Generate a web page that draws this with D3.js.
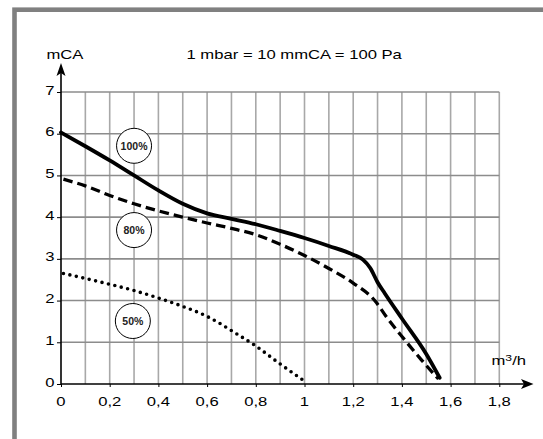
<!DOCTYPE html>
<html><head><meta charset="utf-8">
<script src="https://cdn.jsdelivr.net/npm/d3@7"></script>
<style>body{margin:0;background:#fff}svg{display:block}</style>
</head><body>
<script>
// ---- data ----
const flow100 = [0, 0.1, 0.2, 0.3, 0.4, 0.5, 0.6, 0.7, 0.8, 0.9, 1.0, 1.1, 1.2, 1.24, 1.27, 1.3, 1.33, 1.4, 1.5, 1.555];
const head100 = [6.03, 5.70, 5.36, 5.00, 4.64, 4.32, 4.09, 3.96, 3.83, 3.67, 3.50, 3.31, 3.10, 2.98, 2.78, 2.44, 2.17, 1.57, 0.72, 0.15];
const flow80 = [0.01, 0.1, 0.2, 0.3, 0.4, 0.5, 0.6, 0.7, 0.8, 0.9, 1.0, 1.1, 1.2, 1.29, 1.34, 1.41, 1.48, 1.55];
const head80 = [4.91, 4.75, 4.52, 4.32, 4.15, 4.00, 3.86, 3.73, 3.58, 3.35, 3.08, 2.77, 2.42, 1.99, 1.58, 1.07, 0.58, 0.12];
const flow50 = [0.01, 0.1, 0.2, 0.3, 0.4, 0.5, 0.6, 0.65, 0.7, 0.8, 0.9, 1.0];
const head50 = [2.65, 2.53, 2.39, 2.24, 2.06, 1.86, 1.62, 1.46, 1.28, 0.91, 0.48, 0.07];
const xTicks = [0, 0.2, 0.4, 0.6, 0.8, 1, 1.2, 1.4, 1.6, 1.8];
const xTickLabels = ["0", "0,2", "0,4", "0,6", "0,8", "1", "1,2", "1,4", "1,6", "1,8"];
const yTicks = [0, 1, 2, 3, 4, 5, 6, 7];
const labels = ["100%", "80%", "50%"];
const labelX = [0.30, 0.30, 0.295];
const labelY = [5.71, 3.69, 1.51];
const title = "1 mbar = 10 mmCA = 100 Pa";
const yTitle = "mCA";

// ---- layout ----
const W = 543, H = 439;
const svg = d3.select("body").append("svg").attr("width", W).attr("height", H);
const x = d3.scaleLinear().domain([0, 1.8]).range([61, 499.3]);
const y = d3.scaleLinear().domain([0, 7]).range([384, 92]);
const SX = 1.28;
const font = "'Liberation Sans', Arial, sans-serif";

svg.append("rect").attr("width", W).attr("height", H).attr("fill", "#fff");
// frame
svg.append("rect").attr("x", 14.5).attr("y", 9.7).attr("width", 600).attr("height", 500)
  .attr("fill", "none").attr("stroke", "#808080").attr("stroke-width", 4.6);

// grid
const g = svg.append("g");
g.selectAll(".vg").data(d3.range(1, 19).map(i => i / 10)).join("line")
  .attr("x1", d => x(d)).attr("x2", d => x(d)).attr("y1", y(0)).attr("y2", y(7))
  .attr("stroke", "#a8a8a8").attr("stroke-width", 1.6);
g.selectAll(".hg").data(yTicks.slice(1)).join("line")
  .attr("x1", x(0)).attr("x2", x(1.8)).attr("y1", d => y(d)).attr("y2", d => y(d))
  .attr("stroke", "#8c8c8c").attr("stroke-width", 1.6);

// axes via d3 axis (ticks), then arrow lines
const xAxis = svg.append("g").attr("transform", `translate(0,${y(0)})`)
  .call(d3.axisBottom(x).tickValues(xTicks).tickSize(3).tickFormat(""));
const yAxis = svg.append("g").attr("transform", `translate(${x(0)},0)`)
  .call(d3.axisLeft(y).tickValues(yTicks).tickSize(4).tickFormat(""));
[xAxis, yAxis].forEach(a => { a.select(".domain").remove(); a.selectAll("line").attr("stroke", "#000").attr("stroke-width", 1); });

const ax = svg.append("g").attr("stroke", "#000").attr("stroke-width", 1.6);
ax.append("line").attr("x1", x(0)).attr("x2", 524).attr("y1", y(0)).attr("y2", y(0));
ax.append("line").attr("x1", x(0)).attr("x2", x(0)).attr("y1", y(0)).attr("y2", 72);
svg.append("path").attr("d", `M533.5,${y(0)} L521,${y(0) - 5} L524,${y(0)} L521,${y(0) + 5} Z`).attr("fill", "#000");
svg.append("path").attr("d", `M${x(0)},63 L${x(0) - 4.5},76 L${x(0)},73 L${x(0) + 4.5},76 Z`).attr("fill", "#000");

// text helper with horizontal stretch
function stretchedText(tx, ty, anchor, size) {
  return svg.append("text").attr("transform", `translate(${tx},${ty}) scale(${SX},1)`)
    .attr("text-anchor", anchor).attr("font-family", font).attr("font-size", size).attr("fill", "#000");
}
xTicks.forEach((v, i) => stretchedText(x(v), 406, "middle", 13).text(xTickLabels[i]));
yTicks.forEach(v => stretchedText(54.5, y(v) + 2.5, "end", 13).text(String(v)));
stretchedText(46.5, 59, "start", 13).text(yTitle);
stretchedText(186.5, 58.5, "start", 13).text(title);
const u = stretchedText(491.5, 365, "start", 13);
u.append("tspan").text("m");
u.append("tspan").attr("dy", -4.5).attr("font-size", 9.5).text("3");
u.append("tspan").attr("dy", 4.5).text("/h");

// curves
const line = d3.line().x(d => x(d[0])).y(d => y(d[1])).curve(d3.curveMonotoneX);
const zip = (a, b) => a.map((v, i) => [v, b[i]]);
svg.append("path").datum(zip(flow100, head100)).attr("d", line)
  .attr("fill", "none").attr("stroke", "#000").attr("stroke-width", 3.8).attr("stroke-linecap", "round");
svg.append("path").datum(zip(flow80, head80)).attr("d", line)
  .attr("fill", "none").attr("stroke", "#000").attr("stroke-width", 3.3).attr("stroke-dasharray", "9.5,5");
svg.append("path").datum(zip(flow50, head50)).attr("d", line)
  .attr("fill", "none").attr("stroke", "#000").attr("stroke-width", 3.6).attr("stroke-linecap", "round")
  .attr("stroke-dasharray", "0,6.6");

// circle labels
labels.forEach((t, i) => {
  svg.append("circle").attr("cx", x(labelX[i])).attr("cy", y(labelY[i])).attr("r", 17.5)
    .attr("fill", "#fff").attr("stroke", "#000").attr("stroke-width", 1);
  svg.append("text").attr("x", x(labelX[i])).attr("y", y(labelY[i]) + 3.8).attr("text-anchor", "middle")
    .attr("font-family", font).attr("font-weight", "bold").attr("font-size", 10.5).attr("fill", "#222").text(t);
});
</script>
</body></html>
